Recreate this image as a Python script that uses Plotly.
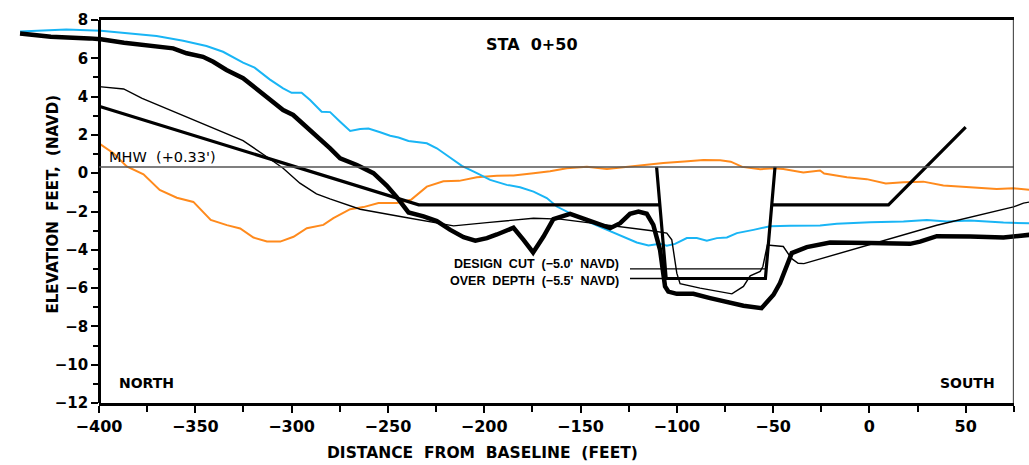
import plotly.graph_objects as go

# ---------------- data (feet / feet NAVD) ----------------
survey_x = [-441, -425, -405, -399, -387, -370, -361.5, -354.5, -346, -340.7, -333.8, -325.2, -316.5,
            -309.6, -304.4, -299.2, -292.3, -285.4, -280, -274.8, -266.1, -257.5, -250.5, -245.4, -239.3,
            -231.5, -224.6, -217.6, -210.7, -204.6, -198.6, -193.4, -184.8, -179.6, -174.6, -169.2, -164.1,
            -155.4, -148.5, -134.6, -129.4, -124.3, -119.9, -115.6, -112.2, -108.7, -106.1, -104.4, -100.0,
            -91.4, -82.7, -74.0, -65.4, -56, -49.8, -46.4, -40.3, -32.5, -20.4, 0.4, 21.1, 26.3, 35, 52.3,
            69.6, 83]
survey_y = [7.30, 7.13, 7.04, 6.99, 6.81, 6.64, 6.52, 6.26, 6.08, 5.82, 5.39, 4.96, 4.26,
            3.73, 3.30, 3.04, 2.43, 1.80, 1.30, 0.78, 0.43, 0.0, -0.66, -1.25, -2.05,
            -2.25, -2.50, -2.96, -3.34, -3.52, -3.39, -3.20, -2.85, -3.48, -4.14, -3.31, -2.40,
            -2.12, -2.35, -2.87, -2.61, -2.12, -2.00, -2.12, -2.70, -4.00, -5.91, -6.18, -6.30,
            -6.30, -6.52, -6.75, -6.92, -7.05, -6.35, -5.74, -4.17, -3.86, -3.62, -3.65, -3.69, -3.57, -3.29, -3.31,
            -3.36, -3.22]

blue_x = [-441, -417, -399, -387.4, -370.1, -356.3, -344.2, -335.6, -325.2, -319.2, -311.4, -304.4, -300,
          -294.8, -290.4, -284.4, -280, -274.8, -269.6, -264.4, -260.1, -254, -248.8, -244.5, -239.3,
          -229.8, -224.6, -218.5, -211.6, -203.8, -196.9, -188.3, -181.4, -174.4, -167.5, -162.3, -153.7,
          -145, -136.3, -127.7, -120.8, -114.7, -108.7, -105.2, -100.9, -94.8, -89.6, -84.4, -79.2, -74,
          -68.8, -60.2, -51.6, -41.2, -25.6, -16.9, 0.4, 17.7, 29.8, 40.2, 52.3, 69.6, 83]
blue_y = [7.40, 7.51, 7.44, 7.33, 7.16, 6.92, 6.64, 6.34, 5.77, 5.51, 4.90, 4.43, 4.20,
          4.20, 3.82, 3.21, 3.19, 2.69, 2.21, 2.31, 2.33, 2.14, 1.96, 1.86, 1.68,
          1.56, 1.30, 0.87, 0.38, 0.0, -0.35, -0.61, -0.73, -0.96, -1.30, -1.74, -2.18,
          -2.58, -2.96, -3.31, -3.62, -3.78, -3.69, -3.79, -3.69, -3.39, -3.39, -3.52, -3.39, -3.36,
          -3.13, -2.96, -2.77, -2.75, -2.73, -2.64, -2.56, -2.52, -2.44, -2.52, -2.47, -2.58, -2.61]

orange_x = [-400, -392.5, -385.6, -376.9, -368.5, -359.6, -351, -342, -333.6, -326.7, -319.8, -312.8, -305.9,
            -299, -292.1, -283.5, -278.3, -269.6, -262.7, -254.9, -245.4, -238, -229.8, -221.2, -213,
            -203.8, -193.4, -184.8, -174.4, -165.8, -157.1, -146.7, -136.3, -124, -107, -96, -86.2, -77.5,
            -72, -66, -56.7, -49.8, -44.7, -34.3, -25.6, -23.5, -11.7, -1.4, 8.5, 17.7, 28, 38.4, 55.8,
            66.1, 74.8, 83]
orange_y = [1.56, 1.04, 0.35, -0.06, -0.87, -1.28, -1.50, -2.44, -2.71, -2.89, -3.36, -3.57, -3.57,
            -3.32, -2.87, -2.70, -2.35, -1.88, -1.77, -1.56, -1.56, -1.39, -0.70, -0.42, -0.40,
            -0.21, -0.13, -0.12, 0.0, 0.10, 0.26, 0.34, 0.22, 0.36, 0.53, 0.61, 0.69, 0.67,
            0.60, 0.33, 0.21, 0.26, 0.22, 0.04, 0.14, -0.02, -0.21, -0.31, -0.54, -0.47, -0.44, -0.64, -0.78,
            -0.83, -0.78, -0.87]

thin_x = [-400, -387.2, -377.6, -325.2, -313.1, -304.4, -295.7, -287.1, -280.1, -264.4, -243.6, -215.9,
          -198.6, -174.4, -160.6, -136.3, -113.9, -105.2, -102.6, -100, -98.3, -87.9, -71.4, -65.4, -61.9,
          -56.7, -55.3, -53, -44.7, -40.5, -37, -34, 35, 74.8, 80, 83]
thin_y = [4.52, 4.40, 3.91, 1.70, 0.87, 0.26, -0.52, -1.08, -1.34, -1.88, -2.26, -2.75,
          -2.58, -2.35, -2.40, -2.70, -2.99, -3.13, -3.48, -5.22, -5.77, -6.00, -6.30, -5.91, -5.36,
          -5.13, -4.87, -3.75, -3.83, -4.45, -4.70, -4.72, -2.72, -1.76, -1.56, -1.51]

# design template (berm / slopes) and channel cut
template_x = [-400, -234, -108.8, None, -50.4, 9.9, 50]
template_y = [3.5, -1.65, -1.65, None, -1.65, -1.65, 2.4]
channel_x = [-110.5, -105.5, -54, -49]
channel_y = [0.33, -5.5, -5.5, 0.33]

MHW = 0.33
DESIGN_CUT = -5.0
OVER_DEPTH = -5.5
leader_x0 = -124.3
design_cut_end = -54.1
over_depth_end = -105.5

x_ticks = [-400, -350, -300, -250, -200, -150, -100, -50, 0, 50]
y_ticks = [-12, -10, -8, -6, -4, -2, 0, 2, 4, 6, 8]
FRAME_X = [-400, 75]
FRAME_Y = [-12, 8]

# ---------------- layout geometry ----------------
W, H = 1029, 465
PX_PER_FT = 1.926
AXIS_PX = 99.0                      # pixel of x = -400
X_LEFT = FRAME_X[0] - AXIS_PX / PX_PER_FT
X_RIGHT = FRAME_X[0] + (W - AXIS_PX) / PX_PER_FT
span = X_RIGHT - X_LEFT
dom2 = [(FRAME_X[0] - X_LEFT) / span, (FRAME_X[1] - X_LEFT) / span]

BOLD = dict(family="DejaVu Sans", color="black", weight="bold")

fig = go.Figure()
fig.add_trace(go.Scatter(x=orange_x, y=orange_y, mode="lines",
                         line=dict(color="#FF8A1C", width=2), hoverinfo="skip"))
fig.add_trace(go.Scatter(x=blue_x, y=blue_y, mode="lines",
                         line=dict(color="#19B5F5", width=2), hoverinfo="skip"))
fig.add_trace(go.Scatter(x=thin_x, y=thin_y, mode="lines",
                         line=dict(color="black", width=1.4), hoverinfo="skip"))
fig.add_trace(go.Scatter(x=template_x, y=template_y, mode="lines",
                         line=dict(color="black", width=3.2), hoverinfo="skip"))
fig.add_trace(go.Scatter(x=channel_x, y=channel_y, mode="lines",
                         line=dict(color="black", width=3.2), hoverinfo="skip"))
fig.add_trace(go.Scatter(x=[leader_x0, design_cut_end, None, leader_x0, over_depth_end],
                         y=[DESIGN_CUT, DESIGN_CUT, None, OVER_DEPTH, OVER_DEPTH], mode="lines",
                         line=dict(color="black", width=1.3), hoverinfo="skip"))
fig.add_trace(go.Scatter(x=survey_x, y=survey_y, mode="lines",
                         line=dict(color="black", width=4.5), hoverinfo="skip"))
# MHW line on the framed axis
fig.add_trace(go.Scatter(x=FRAME_X, y=[MHW, MHW], mode="lines", xaxis="x2",
                         line=dict(color="#555555", width=1.5), hoverinfo="skip"))

fig.update_layout(
    template="none",
    width=W, height=H,
    margin=dict(l=0, r=0, t=20, b=62, pad=0, autoexpand=False),
    paper_bgcolor="white", plot_bgcolor="rgba(0,0,0,0)",
    showlegend=False,
    xaxis=dict(range=[X_LEFT, X_RIGHT], visible=False, fixedrange=True, automargin=False),
    xaxis2=dict(domain=dom2, range=FRAME_X, anchor="y", showgrid=False, zeroline=False,
                automargin=False,
                showline=True, linecolor="black", linewidth=2.5, mirror=True,
                tickmode="array", tickvals=x_ticks, ticks="outside", ticklen=7, tickwidth=2,
                tickcolor="black", ticklabelstandoff=0,
                minor=dict(dtick=25, tick0=-400, ticks="outside", ticklen=6, tickwidth=2, tickcolor="black"),
                tickfont=dict(size=16, **BOLD)),
    yaxis=dict(range=FRAME_Y, anchor="free", position=dom2[0], showgrid=False, zeroline=False,
               automargin=False,
               showline=True, linecolor="black", linewidth=2.5,
               tickmode="array", tickvals=y_ticks, ticks="outside", ticklen=7, tickwidth=2,
               tickcolor="black",
               minor=dict(dtick=1, tick0=-12, ticks="outside", ticklen=5, tickwidth=2, tickcolor="black"),
               tickfont=dict(size=15, **BOLD)),
)

# right border of the frame
fig.add_shape(type="line", xref="x2", yref="y", x0=FRAME_X[1], x1=FRAME_X[1],
              y0=FRAME_Y[0] - 0.3, y1=FRAME_Y[1], line=dict(color="#333333", width=2))

# text
fig.add_annotation(text="STA  0+50", xref="x2", yref="y", x=-175, y=6.7, showarrow=False,
                   font=dict(size=16, **BOLD))
fig.add_annotation(text="MHW  (+0.33')", xref="x2", yref="y", x=-396, y=0.87, showarrow=False,
                   xanchor="left", font=dict(family="DejaVu Sans", size=14.5, color="black"))
fig.add_annotation(text="NORTH", xref="x2", yref="y", x=-390.5, y=-10.95, showarrow=False,
                   xanchor="left", yanchor="middle", font=dict(size=14, **BOLD))
fig.add_annotation(text="SOUTH", xref="x2", yref="y", x=66.5, y=-10.95, showarrow=False,
                   xanchor="right", yanchor="middle", font=dict(size=14, **BOLD))
fig.add_annotation(text="DESIGN  CUT  (−5.0'  NAVD)", xref="x2", yref="y", x=-129, y=-4.72,
                   showarrow=False, xanchor="right", yanchor="middle",
                   font=dict(family="Liberation Sans", size=12.5, color="black", weight="bold"))
fig.add_annotation(text="OVER  DEPTH  (−5.5'  NAVD)", xref="x2", yref="y", x=-129, y=-5.65,
                   showarrow=False, xanchor="right", yanchor="middle",
                   font=dict(family="Liberation Sans", size=12.5, color="black", weight="bold"))
# axis titles
fig.add_annotation(text="DISTANCE  FROM  BASELINE  (FEET)", xref="paper", yref="paper",
                   x=482.5 / W, y=(403 - 453) / 383, xanchor="center", yanchor="middle",
                   showarrow=False, font=dict(size=15.5, **BOLD))
fig.add_annotation(text="ELEVATION  FEET,  (NAVD)", xref="paper", yref="paper",
                   x=52.5 / W, y=(403 - 204) / 383, xanchor="center", yanchor="middle",
                   showarrow=False, textangle=-90, font=dict(size=15, **BOLD))

fig.write_html("out.html", config={"displayModeBar": False},
               post_script="document.body.style.margin='0px';document.body.style.overflow='hidden';")
